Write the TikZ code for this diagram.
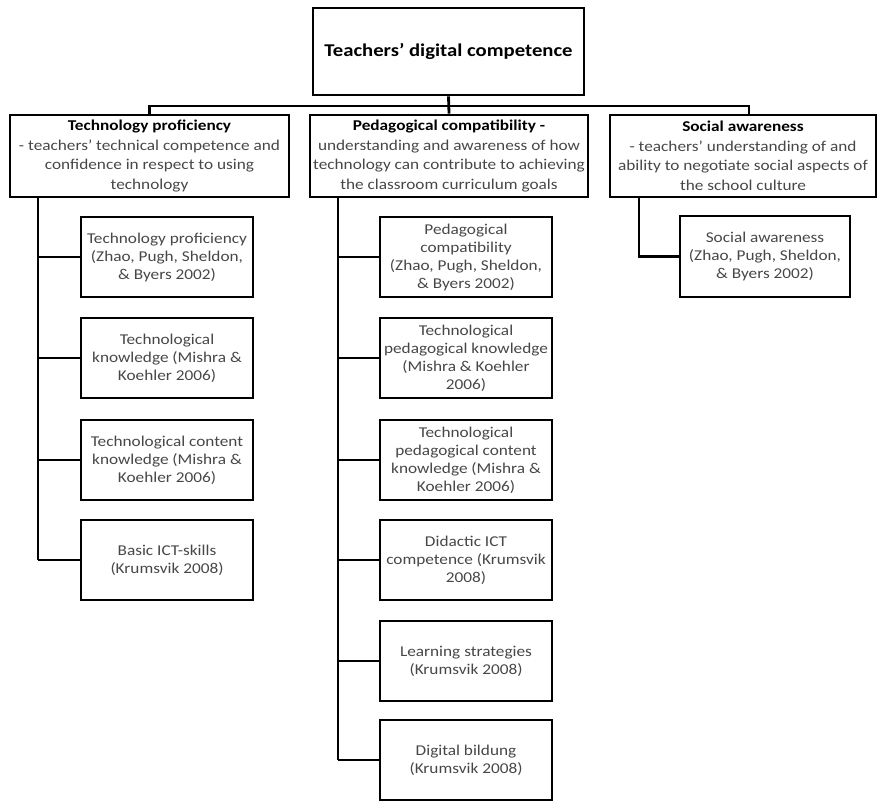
\documentclass[tikz,border=0pt]{standalone}
\usepackage{fontspec}
\setmainfont{Carlito}[FakeStretch=1.15]
\usetikzlibrary{positioning}

\begin{document}
\begin{tikzpicture}[x=1pt,y=-1pt,
		box/.style={draw, line width=2.8pt, align=center, inner sep=1pt, text=black!72,
			font=\fontsize{15}{18}\selectfont},
		topbox/.style={box, minimum width=271pt, minimum height=87pt, text=black,
			font=\fontsize{18}{21}\selectfont\bfseries},
		headbox/.style={box, minimum height=82pt, font=\fontsize{15}{19.5}\selectfont},
		leaf/.style={box, minimum width=172pt, minimum height=80pt},
		link/.style={line width=2.8pt, line join=miter}]
	\useasboundingbox (0,0) rectangle (877,800);
	% top and the three headers
	\node[topbox] (tdc) at (448.5,51.5) {Teachers' digital competence};
	\node[headbox, minimum width=279pt] (tp) at (149.5,156) {\textcolor{black}{\textbf{Technology proficiency}}\\- teachers' technical competence and\\confidence in respect to using\\technology};
	\node[headbox, minimum width=278pt] (pc) at (449,156) {\textcolor{black}{\textbf{Pedagogical compatibility -}}\\understanding and awareness of how\\technology can contribute to achieving\\the classroom curriculum goals};
	\node[headbox, minimum width=266pt] (sa) at (743,156) {\textcolor{black}{\textbf{Social awareness}}\\- teachers' understanding of and\\ability to negotiate social aspects of\\the school culture};
	% leaves
	\node[leaf] (tp1) at (167,257) {Technology proficiency\\(Zhao, Pugh, Sheldon,\\\& Byers 2002)};
	\node[leaf] (tp2) at (167,358) {Technological\\knowledge (Mishra \&\\Koehler 2006)};
	\node[leaf] (tp3) at (167,460) {Technological content\\knowledge (Mishra \&\\Koehler 2006)};
	\node[leaf] (tp4) at (167,560) {Basic ICT-skills\\(Krumsvik 2008)};
	\node[leaf] (pc1) at (466,257) {Pedagogical\\compatibility\\(Zhao, Pugh, Sheldon,\\\& Byers 2002)};
	\node[leaf] (pc2) at (466,358) {Technological\\pedagogical knowledge\\(Mishra \& Koehler\\2006)};
	\node[leaf] (pc3) at (466,460) {Technological\\pedagogical content\\knowledge (Mishra \&\\Koehler 2006)};
	\node[leaf] (pc4) at (466,560) {Didactic ICT\\competence (Krumsvik\\2008)};
	\node[leaf] (pc5) at (466,661) {Learning strategies\\(Krumsvik 2008)};
	\node[leaf] (pc6) at (466,760) {Digital bildung\\(Krumsvik 2008)};
	\node[leaf, minimum width=170pt, minimum height=81pt] (sa1) at (765,256.5) {Social awareness\\(Zhao, Pugh, Sheldon,\\\& Byers 2002)};
	% bus
	\coordinate (bus) at (0,106);
	\draw[link] (tdc.south) -- (pc.north);
	\draw[link] (tp.north) -- (tp.north |- bus) -- ([xshift=6pt]sa.north |- bus) -- ([xshift=6pt]sa.north);
	% spines
	\coordinate (tpspine) at (38,0);
	\coordinate (pcspine) at (338,0);
	\coordinate (saspine) at (639,0);
	\draw[link] (tpspine |- tp.south) -- (tpspine |- tp4.west);
	\draw[link] (pcspine |- pc.south) -- (pcspine |- pc6.west);
	\draw[link] (saspine |- sa.south) |- (sa1.west);
	\foreach \n in {1,...,4}
		\draw[link] (tpspine |- tp\n.west) -- (tp\n.west);
	\foreach \n in {1,...,6}
		\draw[link] (pcspine |- pc\n.west) -- (pc\n.west);
\end{tikzpicture}
\end{document}
